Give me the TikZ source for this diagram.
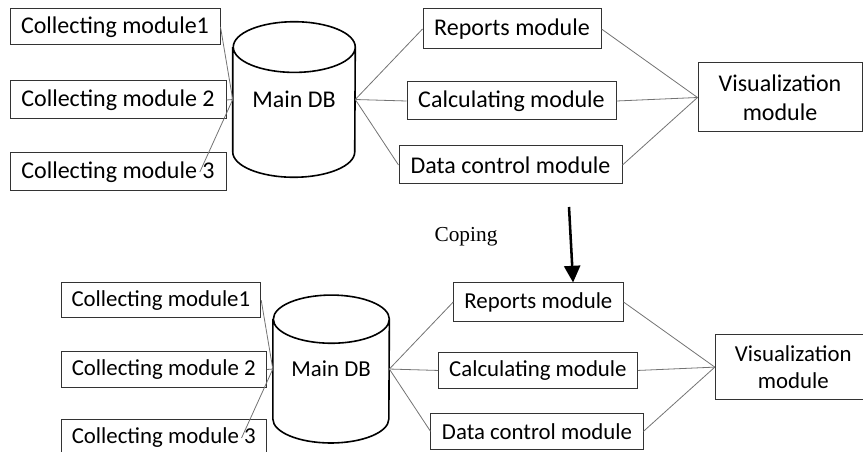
\documentclass[tikz,border=0pt]{standalone}
\usepackage{fontspec}
\setmainfont{Carlito}
\newfontfamily\serifcaption{Liberation Serif}
\usetikzlibrary{arrows.meta}

% one copy of the module layout, drawn in px coordinates
\newcommand{\moduleset}{%
    \node[modbox, minimum width=157.5pt, minimum height=27pt] (cm1) at (115,27) {Collecting module1};
    \node[modbox, minimum width=162pt, minimum height=28.5pt] (cm2) at (118,100) {Collecting module 2};
    \node[modbox, minimum width=162pt, minimum height=28.5pt] (cm3) at (118,172) {Collecting module 3};
    \node[dbstore, minimum width=91.5pt, minimum height=116.25pt] (db) at (294,99.5) {Main DB};
    % outline of the storage drum
    \draw[dbline] ([yshift=-19pt]db.north west) -- ([yshift=19pt]db.south west)
        arc[start angle=180, end angle=360, x radius=45.75pt, y radius=19pt]
        -- ([yshift=-19pt]db.north east)
        arc[start angle=0, end angle=360, x radius=45.75pt, y radius=19pt];
    \node[modbox, minimum width=133.5pt, minimum height=30pt] (rep) at (512,29) {Reports module};
    \node[modbox, minimum width=156.75pt, minimum height=28.5pt] (calc) at (511.5,101) {Calculating module};
    \node[modbox, minimum width=167.25pt, minimum height=28.5pt] (data) at (510.5,165) {Data control module};
    \node[modbox, minimum width=123pt, minimum height=51.75pt, align=center] (viz) at (780,97.5) {Visualization\\module};
    \draw[link] (cm1.east) -- (db.west);
    \draw[link] (cm2.east) -- (db.west);
    \draw[link] ([xshift=-20pt]cm3.east) -- (db.west);
    \draw[link] (db.east) -- (rep.west);
    \draw[link] (db.east) -- (calc.west);
    \draw[link] (db.east) -- (data.west);
    \draw[link] (rep.east) -- (viz.west);
    \draw[link] (calc.east) -- (viz.west);
    \draw[link] (data.east) -- (viz.west);
}

\begin{document}
\begin{tikzpicture}[x=0.75pt, y=-0.75pt,
    modbox/.style={draw=black!80, line width=0.75pt, rectangle, inner sep=2pt, font=\fontsize{18pt}{21.6pt}\selectfont},
    dbstore/.style={rectangle, inner sep=0pt, font=\fontsize{18pt}{21.6pt}\selectfont},
    dbline/.style={draw=black, line width=1.2pt},
    link/.style={draw=black!55, line width=0.6pt},
    copyarrow/.style={draw=black, line width=1.9pt, -{Triangle[width=12pt,length=12.5pt]}}]
    \useasboundingbox (0,0) rectangle (863,452);
    \clip (0,0) rectangle (863,452);
    % first layout
    \begin{scope}[name prefix=t-]
        \moduleset
    \end{scope}
    % the copy, a bit smaller
    \begin{scope}[name prefix=b-, shift={(51.5,274.4)}, scale=0.951, transform shape]
        \moduleset
    \end{scope}
    \node[font=\serifcaption\fontsize{16pt}{19pt}\selectfont] (coping) at (466,237) {Coping};
    \coordinate (copytop) at (569,207);
    \draw[copyarrow] (copytop) -- ([xshift=26pt]b-rep.north);
\end{tikzpicture}
\end{document}
